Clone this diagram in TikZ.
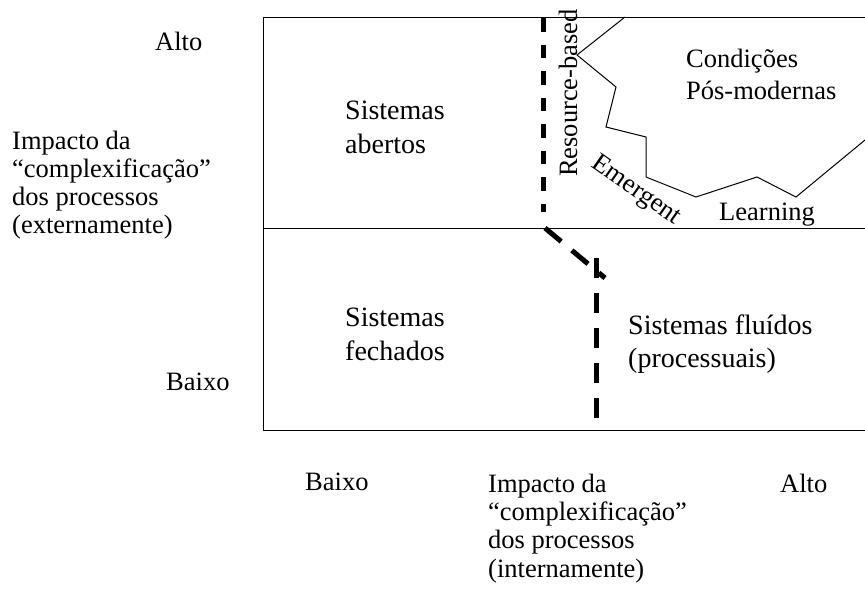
\documentclass[tikz,border=0pt]{standalone}
\usepackage{fontspec}
\setmainfont{Liberation Serif}
\usepackage{tikz}

\begin{document}
\begin{tikzpicture}[x=1pt, y=-1pt,
	txt/.style={inner sep=0pt, anchor=base west, align=left, font=\fontsize{26.5}{28.3}\selectfont},
	bigtxt/.style={txt, font=\fontsize{28}{34}\selectfont},
	bolddash/.style={line width=5pt, dash pattern=on 20pt off 15pt}]
	\useasboundingbox (0,0) rectangle (865,592);
	% quadrant frame
	\draw[line width=1pt] (865,17) -- (263,17) -- (263,430) -- (865,430);
	\draw[line width=1pt] (263,228) -- (865,228);
	% boundary of the post-modern region
	\draw[line width=1pt] (625,17) -- (577,55) -- (616,87) -- (606,127) -- (646,137) -- (646,177) -- (696,197) -- (757,177) -- (796,197) -- (865,140);
	% thick dashed frontier
	\draw[bolddash, dash pattern=on 13.5pt off 13pt] (543,18) -- (543,212);
	\draw[bolddash, dash pattern=on 21pt off 14pt] (545,228) -- (605,278);
	\draw[bolddash] (596,258) -- (596,420);
	% axis labels (multi-line nodes sit on their last line)
	\node[txt] (altoY) at (155,50) {Alto};
	\node[txt, font=\fontsize{26.5}{28}\selectfont] (impactoExt) at (12,233) {Impacto da\\“complexificação”\\dos processos\\(externamente)};
	\node[txt] (baixoY) at (166,390) {Baixo};
	\node[txt] (baixoX) at (305,490) {Baixo};
	\node[txt] (impactoInt) at (488,577) {Impacto da\\“complexificação”\\dos processos\\(internamente)};
	\node[txt] (altoX) at (780,492) {Alto};
	% quadrant labels
	\node[bigtxt] (abertos) at (345,153) {Sistemas\\abertos};
	\node[bigtxt] (fechados) at (345,360) {Sistemas\\fechados};
	\node[bigtxt, font=\fontsize{28}{33}\selectfont] (fluidos) at (628,367) {Sistemas fluídos\\(processuais)};
	\node[txt, font=\fontsize{26.5}{32}\selectfont] (posmod) at (686,99) {Condições\\Pós-modernas};
	% strategy labels
	\node[txt, anchor=base, rotate=90] (resource) at (577,93) {Resource-based};
	\node[txt, anchor=center, rotate=-35] (emergent) at (636,191) {Emergent};
	\node[txt] (learning) at (719,220) {Learning};
\end{tikzpicture}
\end{document}
